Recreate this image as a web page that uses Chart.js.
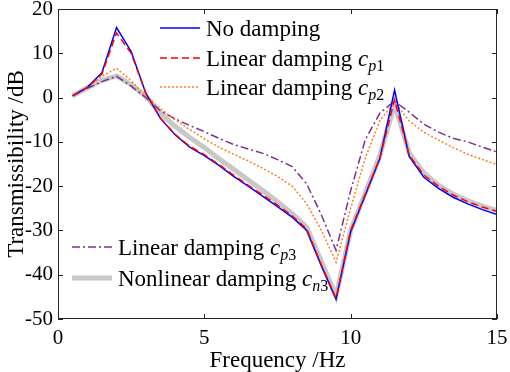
<!DOCTYPE html>
<html>
<head>
<meta charset="utf-8">
<script src="https://cdn.jsdelivr.net/npm/chart.js@4.4.1/dist/chart.umd.min.js"></script>
<style>
  html, body { margin: 0; padding: 0; background: #ffffff; }
  #wrap { width: 510px; height: 372px; }
</style>
</head>
<body>
<div id="wrap"><canvas id="chart" width="510" height="372"></canvas></div>
<script>
/* ================= DATA ================= */
const freq = [0.5, 1, 1.5, 2, 2.5, 3, 3.5, 4, 4.5, 5, 5.5, 6, 6.5, 7, 7.5,
  8, 8.5, 9, 9.5, 10, 10.5, 11, 11.5, 12, 12.5, 13, 13.5, 14, 14.5, 15];

const noDamping = [0.4, 2.3, 5.6, 15.8, 10.4, 1.0, -4.7, -8.4, -11.2, -13.1, -15.3, -17.8, -20.0, -22.3, -24.6,
  -27.0, -30.0, -38.0, -45.5, -30.3, -22.0, -13.7, 1.7, -13.3, -18.0, -20.5, -22.5, -24.0, -25.3, -26.4];
const linearCp1 = [0.4, 2.3, 5.3, 14.6, 10.0, 1.0, -4.6, -8.3, -11.0, -12.9, -15.1, -17.5, -19.8, -22.0, -24.3,
  -26.7, -29.7, -37.8, -45.3, -30.0, -21.8, -13.6, -0.5, -13.0, -17.5, -20.0, -22.0, -23.5, -24.7, -25.7];
const linearCp2 = [0.4, 2.3, 4.8, 6.6, 3.8, 0.3, -2.5, -5.0, -7.2, -9.3, -11.2, -12.8, -14.3, -16.0, -17.8,
  -20.0, -24.0, -30.0, -37.2, -25.0, -13.6, -5.2, -1.0, -5.3, -7.8, -9.6, -11.3, -12.8, -14.0, -15.1];
const linearCp3 = [0.4, 2.1, 3.6, 4.8, 2.6, 0.0, -3.0, -4.8, -6.3, -7.7, -9.2, -10.6, -11.6, -12.6, -14.0,
  -15.6, -19.5, -26.5, -34.5, -21.0, -9.5, -3.5, -0.8, -3.3, -6.0, -7.8, -9.2, -10.0, -11.2, -12.3];
const nonlinearCn3 = [0.4, 2.2, 3.9, 4.9, 2.9, 0.3, -3.5, -6.5, -9.0, -11.3, -13.8, -16.2, -18.6, -21.0, -23.5,
  -26.2, -29.3, -37.0, -44.8, -30.0, -21.5, -13.0, -1.5, -12.5, -17.0, -19.8, -21.8, -23.3, -24.5, -25.5];

const xTicks = [0, 5, 10, 15];
const yTicks = [-50, -40, -30, -20, -10, 0, 10, 20];

/* ================= HELPERS ================= */
const SERIF = "'Liberation Serif', 'Times New Roman', serif";

function pts(ys) {
  return freq.map((f, i) => ({ x: f, y: ys[i] }));
}

/* box + inward ticks like the original */
const frameTicks = {
  id: "frameTicks",
  afterDraw(chart) {
    const { ctx, chartArea: a, scales } = chart;
    ctx.save();
    ctx.strokeStyle = "#262626";
    ctx.lineWidth = 1;
    ctx.strokeRect(a.left + 0.5, a.top + 0.5, a.right - a.left - 1, a.bottom - a.top - 1);
    ctx.beginPath();
    yTicks.forEach((v) => {
      const y = Math.round(scales.y.getPixelForValue(v)) + 0.5;
      ctx.moveTo(a.left, y); ctx.lineTo(a.left + 5, y);
      ctx.moveTo(a.right, y); ctx.lineTo(a.right - 5, y);
    });
    xTicks.forEach((v) => {
      const x = Math.round(scales.x.getPixelForValue(v)) + 0.5;
      ctx.moveTo(x, a.bottom); ctx.lineTo(x, a.bottom - 5);
      ctx.moveTo(x, a.top); ctx.lineTo(x, a.top + 5);
    });
    ctx.stroke();
    ctx.restore();
  },
};

/* legend split in two groups as in the figure */
const legendItems = [
  { x: 160, y: 28, text: "No damping", sub: null, color: "#0000ff", dash: [], width: 1.5 },
  { x: 160, y: 58, text: "Linear damping ", sub: ["p", "1"], color: "#ff0000", dash: [7, 4], width: 1.5 },
  { x: 160, y: 87, text: "Linear damping ", sub: ["p", "2"], color: "#ff7f1e", dash: [2, 2], width: 1.5 },
  { x: 72, y: 247, text: "Linear damping ", sub: ["p", "3"], color: "#7e2f8e", dash: [8, 3, 2, 3], width: 1.5 },
  { x: 72, y: 278, text: "Nonlinear damping ", sub: ["n", "3"], color: "#c8c8c8", dash: [], width: 5 },
];

const splitLegend = {
  id: "splitLegend",
  afterDraw(chart) {
    const ctx = chart.ctx;
    ctx.save();
    legendItems.forEach((it) => {
      ctx.strokeStyle = it.color;
      ctx.lineWidth = it.width;
      ctx.setLineDash(it.dash);
      ctx.beginPath();
      ctx.moveTo(it.x, it.y);
      ctx.lineTo(it.x + 40, it.y);
      ctx.stroke();
      ctx.setLineDash([]);

      ctx.fillStyle = "#000000";
      ctx.textBaseline = "alphabetic";
      ctx.textAlign = "left";
      let tx = it.x + 46;
      const by = it.y + 8;
      ctx.font = "23px " + SERIF;
      ctx.fillText(it.text, tx, by);
      if (it.sub) {
        tx += ctx.measureText(it.text).width;
        ctx.font = "italic 23px " + SERIF;
        ctx.fillText("c", tx, by);
        tx += ctx.measureText("c").width;
        ctx.font = "italic 16px " + SERIF;
        ctx.fillText(it.sub[0], tx, by + 5);
        tx += ctx.measureText(it.sub[0]).width;
        ctx.font = "16px " + SERIF;
        ctx.fillText(it.sub[1], tx, by + 5);
      }
    });
    ctx.restore();
  },
};

/* ================= CHART ================= */
const ctx = document.getElementById("chart").getContext("2d");

new Chart(ctx, {
  type: "line",
  data: {
    datasets: [
      { label: "Linear damping cp1", data: pts(linearCp1), borderColor: "#ff0000", borderWidth: 1.5, borderDash: [7, 4] },
      { label: "No damping", data: pts(noDamping), borderColor: "#0000ff", borderWidth: 1.5 },
      { label: "Linear damping cp2", data: pts(linearCp2), borderColor: "#ff7f1e", borderWidth: 1.5, borderDash: [2, 2] },
      { label: "Linear damping cp3", data: pts(linearCp3), borderColor: "#7e2f8e", borderWidth: 1.5, borderDash: [8, 3, 2, 3] },
      { label: "Nonlinear damping cn3", data: pts(nonlinearCn3), borderColor: "#c8c8c8", borderWidth: 5 },
    ],
  },
  options: {
    responsive: false,
    animation: false,
    elements: { point: { radius: 0 }, line: { tension: 0, fill: false } },
    layout: { padding: { top: 9, right: 13, left: 0, bottom: 0 } },
    plugins: { legend: { display: false }, tooltip: { enabled: false } },
    scales: {
      x: {
        type: "linear",
        min: 0,
        max: 15,
        afterBuildTicks: (s) => { s.ticks = xTicks.map((v) => ({ value: v })); },
        afterFit: (s) => { s.height = 53; s.paddingLeft = 0; s.paddingRight = 0; },
        grid: { display: false, drawTicks: false },
        border: { display: false },
        ticks: { color: "#000000", padding: 7, font: { family: SERIF, size: 21 }, maxRotation: 0 },
        title: { display: true, text: "Frequency /Hz", color: "#000000", padding: 0, font: { family: SERIF, size: 23, lineHeight: 1 } },
      },
      y: {
        min: -50,
        max: 20,
        afterBuildTicks: (s) => { s.ticks = yTicks.map((v) => ({ value: v })); },
        afterFit: (s) => { s.width = 58; s.paddingTop = 0; s.paddingBottom = 0; },
        grid: { display: false, drawTicks: false },
        border: { display: false },
        ticks: { color: "#000000", padding: 5, font: { family: SERIF, size: 21 } },
        title: { display: true, text: "Transmissibility /dB", color: "#000000", padding: { top: 3, bottom: 0 }, font: { family: SERIF, size: 23 } },
      },
    },
  },
  plugins: [frameTicks, splitLegend],
});
</script>
</body>
</html>
